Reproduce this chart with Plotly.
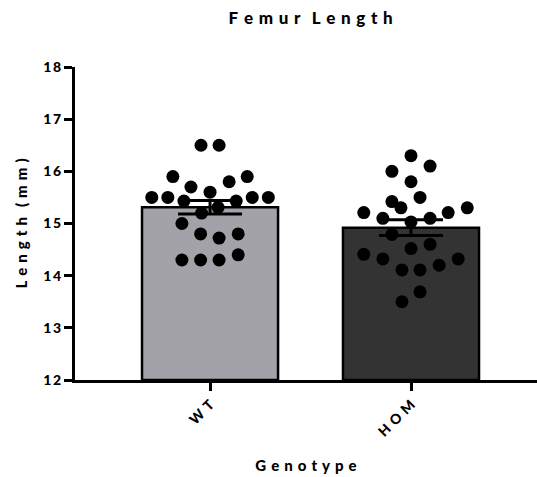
import plotly.graph_objects as go

# ---- data ----
categories = ["WT", "HOM"]
bar_means = [15.31, 14.92]
bar_sem = [0.13, 0.15]
wt_values = [16.5, 16.5, 15.9, 15.9, 15.7, 15.8, 15.6, 15.5, 15.5, 15.5, 15.5,
             15.43, 15.43, 15.31, 15.2, 15.0, 14.8, 14.8, 14.72, 14.3, 14.3, 14.3, 14.4]
hom_values = [16.3, 16.1, 16.0, 15.8, 15.5, 15.42, 15.3, 15.3, 15.21, 15.21, 15.1, 15.1,
              15.03, 14.79, 14.52, 14.6, 14.41, 14.32, 14.32, 14.2, 14.11, 14.11, 13.69, 13.5]
y_ticks = [12, 13, 14, 15, 16, 17, 18]

# horizontal spread of the scatter points (category units)
wt_jitter = [-0.045, 0.045, -0.185, 0.185, -0.095, 0.095, 0.0, -0.29, -0.21, 0.21, 0.29,
             -0.13, 0.13, 0.04, -0.042, -0.14, -0.047, 0.14, 0.045, -0.14, -0.047, 0.045, 0.14]
hom_jitter = [0.0, 0.095, -0.095, 0.0, 0.045, -0.095, -0.05, 0.28, -0.235, 0.185, -0.14, 0.095,
              0.0, -0.095, 0.0, 0.095, -0.235, -0.14, 0.235, 0.14, -0.045, 0.045, 0.045, -0.045]

SP = "\u2004"


def spaced(s, sep=SP):
    return sep.join(list(s))


FONT = "Lato"
W = 900
fig = go.Figure()
xs = list(range(len(categories)))
fig.add_trace(go.Bar(
    x=xs, y=[m - 12 for m in bar_means], base=12, width=0.677,
    marker=dict(color=["#a3a2a8", "#333333"], line=dict(color="black", width=2.5)),
    error_y=dict(type="data", array=bar_sem, color="black", thickness=3, width=32),
    showlegend=False, hoverinfo="skip",
))
fig.add_trace(go.Scatter(
    x=[0 + j for j in wt_jitter], y=wt_values, mode="markers",
    marker=dict(color="black", size=13), showlegend=False,
))
fig.add_trace(go.Scatter(
    x=[1 + j for j in hom_jitter], y=hom_values, mode="markers",
    marker=dict(color="black", size=13), showlegend=False,
))

fig.update_layout(
    width=537, height=477,
    margin=dict(l=75, r=0, t=67, b=97),
    plot_bgcolor="white", paper_bgcolor="white",
    font=dict(family=FONT, color="black", weight=W),
    title=dict(text=spaced("Femur") + SP + SP + spaced("Length"),
               x=0.5785, xanchor="center", y=0.962, yanchor="middle",
               font=dict(size=17, family=FONT, weight=W)),
)
fig.update_xaxes(
    range=[-0.672, 1.627], tickvals=xs,
    ticktext=[spaced(c) for c in categories],
    tickangle=-45, tickfont=dict(size=14, family=FONT, weight=W),
    showline=True, linecolor="black", linewidth=3,
    ticks="outside", ticklen=8, tickwidth=3, tickcolor="black",
    showgrid=False, zeroline=False,
    title=dict(text=spaced("Genotype"), font=dict(size=15, family=FONT, weight=W), standoff=22),
)
fig.update_yaxes(
    range=[12, 18], tickvals=y_ticks,
    ticktext=[spaced(str(t), "\u2009") for t in y_ticks],
    tickfont=dict(size=14, family=FONT, weight=W),
    showline=True, linecolor="black", linewidth=3,
    ticks="outside", ticklen=8, tickwidth=3, tickcolor="black",
    showgrid=False, zeroline=False,
    title=dict(text=spaced("Length") + SP + SP + spaced("(mm)"),
               font=dict(size=15, family=FONT, weight=W), standoff=12),
)
fig.write_html("out.html")
